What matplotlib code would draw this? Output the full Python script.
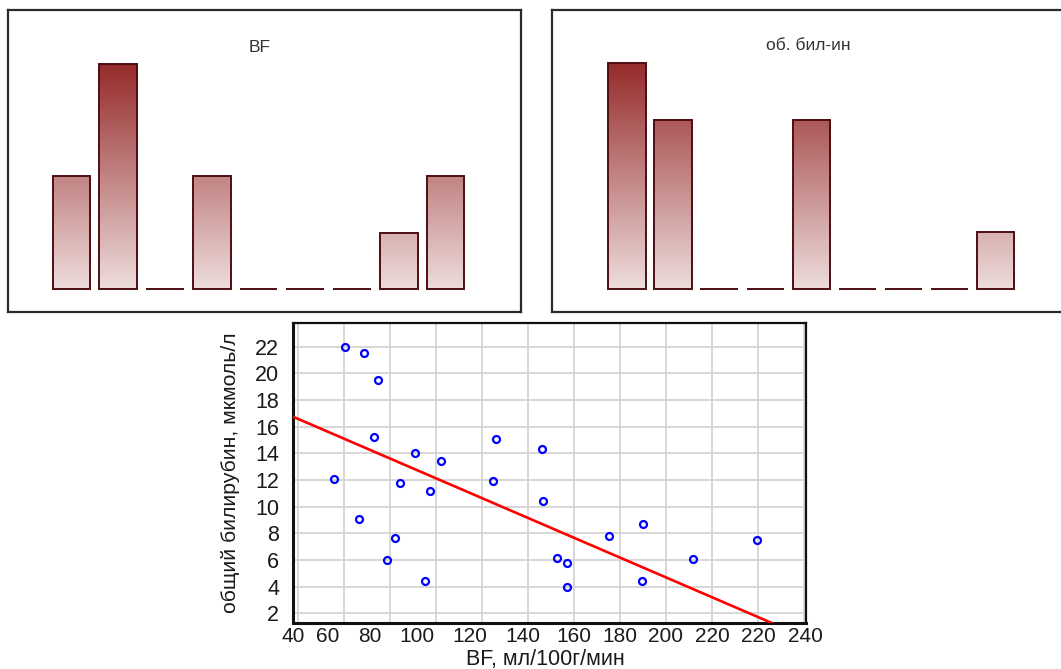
import numpy as np
import matplotlib
matplotlib.use('Agg')
import matplotlib.pyplot as plt
from matplotlib.colors import LinearSegmentedColormap

plt.rcParams['font.family'] = ['Liberation Sans', 'DejaVu Sans']

# Histogram counts (9 bins each)
bf_counts = [2, 4, 0, 2, 0, 0, 0, 1, 2]
bil_counts = [4, 3, 0, 0, 3, 0, 0, 0, 1]
bf_title = 'BF'
bil_title = 'об. бил-ин'

# Scatter data: BF (ml/100g/min) vs total bilirubin (umol/l)
bf_values = [60.4, 68.8, 74.8, 73.0, 90.7, 102.0, 126.0, 146.0, 55.7, 84.3, 97.4, 124.6, 146.4,
             66.4, 82.0, 78.7, 95.1, 152.8, 156.8, 156.8, 175.1, 190.0, 189.6, 211.9, 239.7]
bil_values = [22.0, 21.5, 19.5, 15.25, 14.05, 13.4, 15.05, 14.3, 12.1, 11.8, 11.15, 11.9, 10.4,
              9.1, 7.65, 6.0, 4.4, 6.15, 5.8, 4.0, 7.8, 8.7, 4.45, 6.05, 7.5]

# Regression line y = a + b*x
reg_intercept = 19.56
reg_slope = -0.0743

# Axis tick labels (as printed by the original software)
x_tick_labels = ['40', '60', '80', '100', '120', '140', '160', '180', '200', '220', '220', '240']
y_ticks = [2, 4, 6, 8, 10, 12, 14, 16, 18, 20, 22]

W, H = 1061, 669
fig = plt.figure(figsize=(W / 100, H / 100), dpi=100)

bar_cmap = LinearSegmentedColormap.from_list('bars', ['#eedcdc', '#942727'])


def draw_histogram(rect, counts, title, xlim, ylim, title_xy):
    ax = fig.add_axes(rect)
    width = 0.81
    for i, c in enumerate(counts):
        if c > 0:
            grad = np.linspace(0, c, 200).reshape(-1, 1)
            ax.imshow(grad, extent=(i - width / 2, i + width / 2, 0, c), origin='lower',
                      cmap=bar_cmap, vmin=0, vmax=4.1, aspect='auto', zorder=1)
    ax.bar(range(len(counts)), counts, width=width, facecolor='none',
           edgecolor='#4e0e12', linewidth=1.4, zorder=2)
    ax.set_xlim(*xlim)
    ax.set_ylim(*ylim)
    ax.set_xticks([])
    ax.set_yticks([])
    for s in ax.spines.values():
        s.set_linewidth(1.6)
        s.set_color('#2a2a2a')
    ax.text(title_xy[0], title_xy[1], title, transform=ax.transAxes, ha='center', va='center',
            fontsize=12.5, color='#333333')
    return ax


# top-left and top-right histogram panels
draw_histogram([8 / W, (H - 312) / H, 513 / W, 302 / H], bf_counts, bf_title,
               (-1.358, 9.615), (-0.409, 4.96), (0.491, 0.877))
draw_histogram([552 / W, (H - 312) / H, 516 / W, 302 / H], bil_counts, bil_title,
               (-1.628, 9.575), (-0.41, 4.94), (0.496, 0.881))

# scatter plot with regression line
ax = fig.add_axes([293 / W, (H - 623) / H, 513 / W, 300 / H])
ax.set_xlim(37.8, 260.9)
ax.set_ylim(1.28, 23.78)

# grid on minor ticks, labels on major ticks (labels are not aligned with grid in the original)
ax.xaxis.remove_overlapping_locs = False
ax.yaxis.remove_overlapping_locs = False
grid_x = [40 + 20 * k for k in range(12)]
ax.set_xticks(grid_x, minor=True)
ax.set_yticks(y_ticks, minor=True)
ax.grid(which='minor', color='#d4d4d4', linewidth=1.3)
ax.set_xticks([37.9, 53.0, 71.0, 91.7, 114.8, 137.8, 160.0, 180.0, 200.0, 220.0, 240.0, 260.8])
ax.set_xticklabels(x_tick_labels)
ax.set_yticks(y_ticks)
ax.tick_params(which='both', length=0)
ax.tick_params(axis='x', labelsize=15, pad=3, labelcolor='#1a1a1a')
ax.tick_params(axis='y', labelsize=15.5, pad=10, labelcolor='#1a1a1a')
ax.set_axisbelow(True)

xs = np.array(ax.get_xlim())
ax.plot(xs, reg_intercept + reg_slope * xs, color='#ff0000', linewidth=1.9, zorder=3)
ax.plot(bf_values, bil_values, linestyle='none', marker='o', markersize=5,
        markerfacecolor='none', markeredgecolor='#0000ff', markeredgewidth=1.6, zorder=4)

for s in ax.spines.values():
    s.set_linewidth(1.6)
    s.set_color('#111111')
ax.spines['bottom'].set_linewidth(2.2)
ax.spines['left'].set_linewidth(2.2)

ax.set_xlabel('BF, мл/100г/мин', fontsize=15.5, color='#1a1a1a', va='center')
ax.xaxis.set_label_coords(0.491, -0.122)
ax.set_ylabel('общий билирубин, мкмоль/л', fontsize=15.3, color='#1a1a1a', va='center')
ax.yaxis.set_label_coords(-0.121, 0.5)

fig.savefig('out.png', dpi=100)
